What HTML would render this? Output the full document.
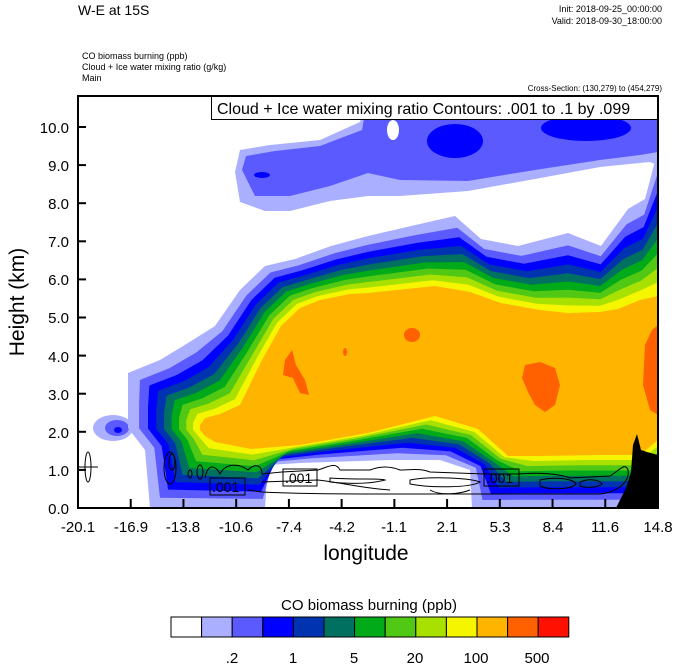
<!DOCTYPE html>
<html><head><meta charset="utf-8"><style>
body{margin:0;background:#fff;}
svg{display:block;font-family:"Liberation Sans",sans-serif;}
</style></head><body>
<svg id="s" width="674" height="667" viewBox="0 0 674 667" xmlns="http://www.w3.org/2000/svg">
<defs><clipPath id="c"><rect x="78" y="96" width="580" height="412"/></clipPath></defs>
<rect width="674" height="667" fill="#fff"/>
<g clip-path="url(#c)" id="field">
<polygon fill="#aab0ff" points="235,172 240,150 270,145 320,140 360,122 368,96 658,96 658,165 650,162 600,167 535,179 468,191 400,196 368,196 330,201 290,211 265,211 240,202"/>
<polygon fill="#5a5aff" points="242,170 246,156 275,151 320,146 362,130 368,96 658,96 658,152 640,155 600,160 535,170 468,181 400,180 368,173 330,186 290,196 255,196"/>
<ellipse cx="262" cy="175" rx="8" ry="3" fill="#0000ff"/>
<ellipse cx="455" cy="141" rx="28" ry="17" fill="#0000ff"/>
<ellipse cx="586" cy="128" rx="45" ry="13" fill="#0000ff"/>
<ellipse cx="393" cy="130" rx="6" ry="10" fill="#ffffff"/>
<ellipse cx="113" cy="428" rx="20" ry="13" fill="#aab0ff"/>
<ellipse cx="117" cy="428" rx="12" ry="8" fill="#5a5aff"/>
<ellipse cx="118" cy="430" rx="4" ry="3" fill="#0000ff"/>
</g>
<g clip-path="url(#c)" id="plume"></g>
<g clip-path="url(#c)">
<polygon fill="#ff6000" points="285,360 292,350 296,365 305,380 309,395 300,393 293,378 283,375"/>
<ellipse cx="412" cy="335" rx="8" ry="7" fill="#ff6000"/>
<ellipse cx="345" cy="352" rx="2" ry="4" fill="#ff6000"/>
<polygon fill="#ff6000" points="525,365 540,362 555,368 560,385 555,405 545,412 535,405 528,392 522,378"/>
<polygon fill="#ff6000" points="645,345 652,330 658,325 658,415 650,410 643,385"/>
<polygon fill="#000" points="616,508 626,488 631,472 633,445 637,434 641,450 647,452 658,455 658,508"/>
<g fill="none" stroke="#000" stroke-width="1">
<ellipse cx="88" cy="467" rx="3" ry="15"/>
<line x1="78" y1="467" x2="98" y2="467"/>
<ellipse cx="170" cy="468" rx="6" ry="16"/><ellipse cx="172" cy="462" rx="3" ry="8"/>
<ellipse cx="200" cy="472" rx="3" ry="7"/><ellipse cx="190" cy="474" rx="2" ry="4"/>
<path d="M205,478 C208,462 216,466 220,474 C226,462 240,464 248,470 C256,462 262,466 262,474 L282,472 L318,470 C330,466 336,462 340,470 L370,470 C380,466 390,466 400,470 C410,470 420,468 430,472 L485,474 L518,474 C540,472 560,474 570,478 L610,476 C620,470 625,462 628,470 C630,480 620,492 600,494 L520,494 L380,494 C340,494 300,494 262,492 L248,490"/>
<path d="M330,478 C360,480 380,478 385,480 C370,484 350,484 330,482 Z"/>
<path d="M410,480 C430,476 470,478 480,482 C470,488 430,488 410,484 Z"/>
<path d="M540,480 C560,476 575,480 576,484 C570,490 548,490 540,486 Z"/>
<path d="M580,482 C590,478 600,480 602,484 C598,488 585,488 580,486 Z"/>
<path d="M262,482 L318,480 C350,484 360,488 390,490"/>
<path d="M430,490 C440,496 460,494 470,490"/>
</g>
<g font-size="14" fill="#000">
<rect x="210" y="478" width="35" height="17" fill="none" stroke="#000"/><text x="212" y="492">.001</text>
<rect x="283" y="469" width="34" height="17" fill="none" stroke="#000"/><text x="285" y="483">.001</text>
<rect x="484" y="469" width="35" height="17" fill="none" stroke="#000"/><text x="486" y="483">.001</text>
</g>
</g>
<rect x="211.5" y="96.5" width="446" height="23" fill="#fff" stroke="#000"/>
<text x="217" y="114" font-size="16">Cloud + Ice water mixing ratio Contours: .001 to .1 by .099</text>
<rect x="78" y="96" width="580" height="412" fill="none" stroke="#000" stroke-width="2"/>
<g id="ticks" stroke="#000" stroke-width="2"></g>
<g id="labels" font-size="15" fill="#000">
<text x="69" y="133" text-anchor="end">10.0</text>
<text x="69" y="171" text-anchor="end">9.0</text>
<text x="69" y="209" text-anchor="end">8.0</text>
<text x="69" y="247" text-anchor="end">7.0</text>
<text x="69" y="285" text-anchor="end">6.0</text>
<text x="69" y="323" text-anchor="end">5.0</text>
<text x="69" y="362" text-anchor="end">4.0</text>
<text x="69" y="400" text-anchor="end">3.0</text>
<text x="69" y="438" text-anchor="end">2.0</text>
<text x="69" y="476" text-anchor="end">1.0</text>
<text x="69" y="514" text-anchor="end">0.0</text>
<g text-anchor="middle">
<text x="78" y="532">-20.1</text><text x="131" y="532">-16.9</text><text x="183" y="532">-13.8</text>
<text x="236" y="532">-10.6</text><text x="289" y="532">-7.4</text><text x="342" y="532">-4.2</text>
<text x="394" y="532">-1.1</text><text x="447" y="532">2.1</text><text x="500" y="532">5.3</text>
<text x="553" y="532">8.4</text><text x="605" y="532">11.6</text><text x="658" y="532">14.8</text>
</g>
</g>
<text x="366" y="560" font-size="21" text-anchor="middle">longitude</text>
<text transform="translate(24,302) rotate(-90)" font-size="21" text-anchor="middle">Height (km)</text>
<text x="78" y="15" font-size="14">W-E at 15S</text>
<text x="662" y="12" font-size="9" text-anchor="end">Init: 2018-09-25_00:00:00</text>
<text x="662" y="24" font-size="9" text-anchor="end">Valid: 2018-09-30_18:00:00</text>
<text x="82" y="59" font-size="9">CO biomass burning   (ppb)</text>
<text x="82" y="70" font-size="9">Cloud + Ice water mixing ratio   (g/kg)</text>
<text x="82" y="81" font-size="9">Main</text>
<text x="662" y="91" font-size="8" text-anchor="end">Cross-Section: (130,279) to (454,279)</text>
<text x="369" y="610" font-size="15" text-anchor="middle">CO biomass burning  (ppb)</text>
<g id="cbar"></g>
<g font-size="15" text-anchor="middle">
<text x="232" y="663">.2</text><text x="293" y="663">1</text><text x="354" y="663">5</text>
<text x="415" y="663">20</text><text x="476" y="663">100</text><text x="537" y="663">500</text>
</g>
</svg>
<script>
var cols=["#ffffff","#aab0ff","#5a5aff","#0000ff","#0033b0","#007060","#00aa18","#50c814","#a8e000","#f5f500","#ffb400","#ff6000","#ff1000"];
var outer=[[128,428],[128,400],[128,373],[160,360],[188,343],[215,326],[240,290],[265,266],[295,259],[331,246],[368,236],[411,226],[455,216],[481,239],[518,246],[568,233],[601,246],[628,209],[645,199],[658,150],[658,508],[640,508],[500,508],[472,508],[470,470],[440,460],[390,460],[300,463],[268,465],[265,508],[150,508],[145,450]];
var inner=[[200,430],[200,425],[205,418],[220,414],[240,405],[262,360],[281,326],[300,308],[320,300],[350,294],[368,293],[435,286],[470,292],[501,303],[540,310],[568,313],[600,312],[618,309],[640,300],[658,296],[658,440],[640,455],[600,455],[540,456],[508,456],[478,429],[435,416],[368,433],[300,445],[251,449],[215,442],[205,436]];
var ns="http://www.w3.org/2000/svg",g=document.getElementById("plume");
for(var k=1;k<=10;k++){var t=(k-1)/9;t=Math.pow(t,0.85);var pts=[];
for(var i=0;i<outer.length;i++){pts.push((outer[i][0]+(inner[i][0]-outer[i][0])*t).toFixed(1)+","+(outer[i][1]+(inner[i][1]-outer[i][1])*t).toFixed(1));}
var p=document.createElementNS(ns,"polygon");p.setAttribute("points",pts.join(" "));p.setAttribute("fill",cols[k]);g.appendChild(p);}
var tk=document.getElementById("ticks");
function L(a,b,c,d){var l=document.createElementNS(ns,"line");l.setAttribute("x1",a);l.setAttribute("y1",b);l.setAttribute("x2",c);l.setAttribute("y2",d);tk.appendChild(l);}
for(var h=0;h<=10;h++){var y=508-38.1*h;L(78,y,86,y);}
for(var j=0;j<12;j++){var x=78+j*580/11;L(x,508,x,499);}
var cb=document.getElementById("cbar");
for(var m=0;m<13;m++){var r=document.createElementNS(ns,"rect");r.setAttribute("x",171+m*30.6);r.setAttribute("y",617);r.setAttribute("width",30.6);r.setAttribute("height",20);r.setAttribute("fill",cols[m]);r.setAttribute("stroke","#000");cb.appendChild(r);}
</script>
</body></html>
